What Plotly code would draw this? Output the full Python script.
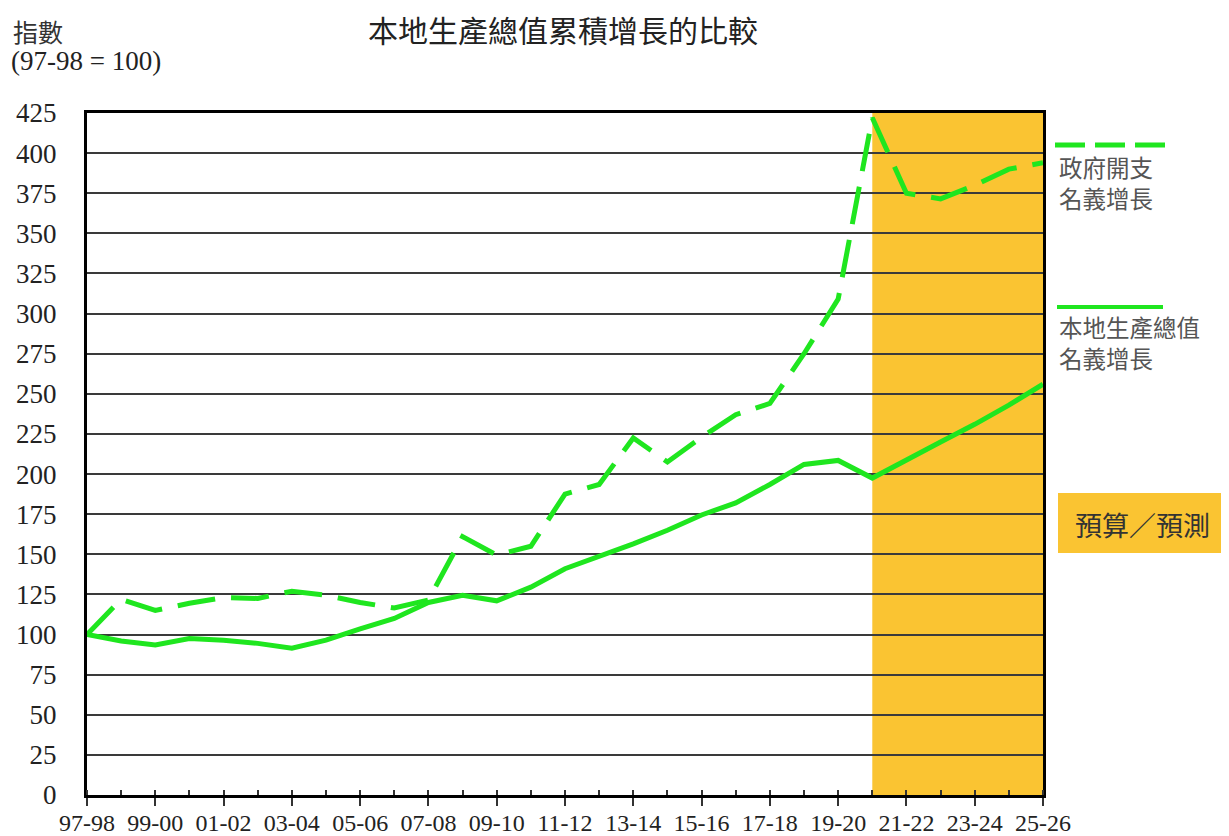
import plotly.graph_objects as go

# ---- data ----
years = ["97-98", "98-99", "99-00", "00-01", "01-02", "02-03", "03-04", "04-05",
         "05-06", "06-07", "07-08", "08-09", "09-10", "10-11", "11-12", "12-13",
         "13-14", "14-15", "15-16", "16-17", "17-18", "18-19", "19-20", "20-21",
         "21-22", "22-23", "23-24", "24-25", "25-26"]
gdp_growth = [100, 96, 93.5, 97.5, 96.5, 94.5, 91.5, 96.5, 103.5, 110, 120, 124.5,
              121, 129.5, 141, 148.5, 156.5, 165, 174.5, 182, 193.5, 206, 208.5,
              197.5, 209, 220, 231, 243, 256]
gov_spending = [100, 122, 115, 119.5, 123, 122.5, 127, 124.5, 120, 116.5, 121.5, 161,
                149.5, 155, 187.5, 193.5, 222.5, 207.5, 223, 237, 244, 275, 309,
                422, 375, 371.5, 380, 390, 394]
forecast_start = "20-21"
y_ticks = list(range(0, 426, 25))
name_gov = ["政府開支", "名義增長"]
name_gdp = ["本地生產總值", "名義增長"]
title_text = "本地生產總值累積增長的比較"
forecast_label = "預算／預測"
index_label = "指數"
base_label = "(97-98 = 100)"

# ---- layout geometry (page pixels; page body has an 8px margin) ----
OFF = 8
W, H = 1229 - OFF, 836 - OFF
PL, PT, PR, PB = 87, 113, 1043, 795       # plot area in page pixels
L, T = PL - OFF, PT - OFF
R, B = W - (PR - OFF), H - (PB - OFF)
pw, ph = PR - PL, PB - PT


def px_x(px):
    return (px - PL) / pw


def px_y(py):
    return (PB - py) / ph


GREEN = "#1fe61f"
ORANGE = "#fac432"
SERIF = "Times New Roman, Liberation Serif, serif"
CJK = "Noto Sans CJK TC, Noto Sans CJK SC, sans-serif"

xi = list(range(len(years)))

fig = go.Figure()
fig.add_trace(go.Scatter(x=xi, y=gov_spending, mode="lines", name="gov",
                         line=dict(color=GREEN, width=5, dash="38px,16px"),
                         showlegend=False, hoverinfo="skip"))
fig.add_trace(go.Scatter(x=xi, y=gdp_growth, mode="lines", name="gdp",
                         line=dict(color=GREEN, width=5),
                         showlegend=False, hoverinfo="skip"))

shapes = [
    dict(type="rect", xref="x", yref="paper", x0=years.index(forecast_start),
         x1=len(years) - 1, y0=0, y1=1, fillcolor=ORANGE, line=dict(width=0),
         layer="below"),
    dict(type="line", xref="paper", yref="paper", x0=px_x(1055), x1=px_x(1165),
         y0=px_y(145), y1=px_y(145), line=dict(color=GREEN, width=5, dash="30px,10px")),
    dict(type="line", xref="paper", yref="paper", x0=px_x(1057), x1=px_x(1163),
         y0=px_y(307), y1=px_y(307), line=dict(color=GREEN, width=4)),
    dict(type="rect", xref="paper", yref="paper", x0=px_x(1058), x1=px_x(1235),
         y0=px_y(553), y1=px_y(493), fillcolor=ORANGE, line=dict(width=0)),
]

annotations = [
    dict(text=title_text, xref="paper", yref="paper", x=px_x(563), y=px_y(29),
         xanchor="center", yanchor="middle", showarrow=False,
         font=dict(family=CJK, size=30, color="#222")),
    dict(text=index_label, xref="paper", yref="paper", x=px_x(11), y=px_y(31),
         xanchor="left", yanchor="middle", showarrow=False,
         font=dict(family=CJK, size=25, color="#333")),
    dict(text=base_label, xref="paper", yref="paper", x=px_x(9), y=px_y(61),
         xanchor="left", yanchor="middle", showarrow=False,
         font=dict(family=SERIF, size=27, color="#222")),
    dict(text=forecast_label, xref="paper", yref="paper", x=px_x(1142), y=px_y(524),
         xanchor="center", yanchor="middle", showarrow=False,
         font=dict(family=CJK, size=27, color="#333")),
]
for lines, top in ((name_gov, 167), (name_gdp, 327)):
    for k, line in enumerate(lines):
        annotations.append(dict(text=line, xref="paper", yref="paper",
                                x=px_x(1057), y=px_y(top + 31 * k),
                                xanchor="left", yanchor="middle", showarrow=False,
                                font=dict(family=CJK, size=23.5, color="#555")))

fig.update_layout(
    width=W, height=H,
    margin=dict(l=L, r=R, t=T, b=B, pad=0, autoexpand=False),
    paper_bgcolor="white", plot_bgcolor="white",
    shapes=shapes, annotations=annotations,
    xaxis=dict(range=[0, len(years) - 1], tickvals=xi[::2], ticktext=years[::2],
               showgrid=False, zeroline=False, automargin=False,
               showline=True, linecolor="black", linewidth=3, mirror=True,
               ticks="outside", ticklen=8, tickwidth=2, tickcolor="#333",
               minor=dict(dtick=1, ticks="inside", ticklen=5, tickwidth=1.5,
                          tickcolor="#333", showgrid=False),
               tickfont=dict(family=SERIF, size=24, color="#222"),
               ticklabelstandoff=-4),
    yaxis=dict(range=[0, 425], tickvals=y_ticks, showgrid=True, automargin=False,
               gridcolor="#3a3a3a", gridwidth=1.5, zeroline=False,
               showline=True, linecolor="black", linewidth=3, mirror=True,
               ticks="", tickfont=dict(family=SERIF, size=27, color="#222"),
               ticklabelstandoff=22),
)

fig.write_html("out.html")
